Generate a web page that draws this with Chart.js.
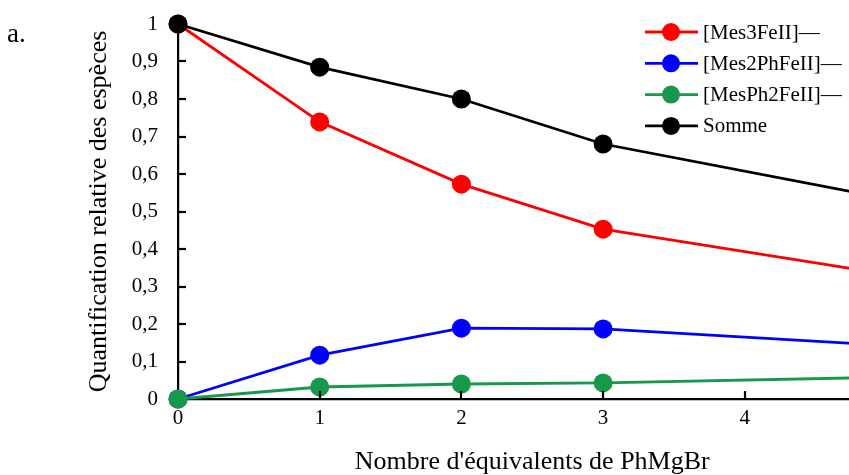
<!DOCTYPE html>
<html>
<head>
<meta charset="utf-8">
<script src="https://cdn.jsdelivr.net/npm/chart.js@4/dist/chart.umd.min.js"></script>
<style>
  html, body { margin: 0; padding: 0; background: #fff; overflow: hidden; }
  #wrap { position: relative; width: 849px; height: 475px; overflow: hidden; }
  #label { position: absolute; left: 7px; top: 18px; font: 27px "Liberation Serif", serif; color: #000; }
  canvas { position: absolute; left: 0; top: 0; }
</style>
</head>
<body>
<div id="wrap">
  <canvas id="chart" width="900" height="475"></canvas>
  <div id="label">a.</div>
</div>
<script>
// data
const equivalents = [0, 1, 2, 3, 5];
const mes3Fe = [1, 0.739, 0.573, 0.453, 0.333];
const mes2PhFe = [0, 0.117, 0.189, 0.187, 0.143];
const mesPh2Fe = [0, 0.032, 0.040, 0.043, 0.058];
const somme = [1, 0.885, 0.80, 0.68, 0.535];
const seriesNames = ['[Mes3FeII]\u2014', '[Mes2PhFeII]\u2014', '[MesPh2FeII]\u2014', 'Somme'];
const yTicks = [0, 0.1, 0.2, 0.3, 0.4, 0.5, 0.6, 0.7, 0.8, 0.9, 1];
const xTicks = [0, 1, 2, 3, 4];

const FONT = '"Liberation Serif", serif';

function pts(vals) {
    return vals.map((v, i) => ({ x: equivalents[i], y: v }));
}

function ds(label, vals, color, order) {
    return {
        label: label,
        data: pts(vals),
        borderColor: color,
        backgroundColor: color,
        borderWidth: 2.8,
        pointRadius: 9.5,
        pointHoverRadius: 9.5,
        pointBorderWidth: 0,
        clip: false,
        order: order
    };
}

// tick marks pointing inside the plot, like the original
const innerTicks = {
    id: 'innerTicks',
    afterDatasetsDraw(chart) {
        const ctx = chart.ctx;
        const x = chart.scales.x, y = chart.scales.y;
        const a = chart.chartArea;
        ctx.save();
        ctx.strokeStyle = '#000';
        ctx.lineWidth = 2.2;
        yTicks.forEach(v => {
            if (v === 0) return;
            const py = Math.round(y.getPixelForValue(v));
            ctx.beginPath();
            ctx.moveTo(a.left, py);
            ctx.lineTo(a.left + 8, py);
            ctx.stroke();
        });
        xTicks.forEach(v => {
            if (v === 0) return;
            const px = Math.round(x.getPixelForValue(v));
            ctx.beginPath();
            ctx.moveTo(px, a.bottom);
            ctx.lineTo(px, a.bottom - 8);
            ctx.stroke();
        });
        ctx.restore();
    }
};

// legend in the top right corner
const cornerLegend = {
    id: 'cornerLegend',
    afterDraw(chart) {
        const ctx = chart.ctx;
        ctx.save();
        ctx.font = '21px ' + FONT;
        ctx.textBaseline = 'middle';
        ctx.textAlign = 'left';
        chart.data.datasets.forEach((d, k) => {
            const cy = 32 + k * 31.3;
            ctx.strokeStyle = d.borderColor;
            ctx.lineWidth = 2.8;
            ctx.beginPath();
            ctx.moveTo(645, cy);
            ctx.lineTo(698, cy);
            ctx.stroke();
            ctx.fillStyle = d.borderColor;
            ctx.beginPath();
            ctx.arc(671, cy, 9, 0, Math.PI * 2);
            ctx.fill();
            ctx.fillStyle = '#000';
            ctx.fillText(d.label, 703, cy + 1);
        });
        ctx.restore();
    }
};

new Chart(document.getElementById('chart'), {
    type: 'line',
    data: {
        datasets: [
            ds(seriesNames[0], mes3Fe, '#ff0000', 3),
            ds(seriesNames[1], mes2PhFe, '#0000ff', 2),
            ds(seriesNames[2], mesPh2Fe, '#17984a', 1),
            ds(seriesNames[3], somme, '#000000', 0)
        ]
    },
    options: {
        responsive: false,
        animation: false,
        devicePixelRatio: 1,
        layout: { padding: { top: 24, right: 13.5, left: 0, bottom: 0 } },
        plugins: { legend: { display: false }, tooltip: { enabled: false } },
        scales: {
            x: {
                type: 'linear',
                min: 0,
                max: 5,
                afterBuildTicks: s => { s.ticks = xTicks.map(v => ({ value: v })); },
                afterFit: s => { s.height = 76; s.paddingLeft = 0; s.paddingRight = 0; },
                grid: { display: true, drawOnChartArea: false, drawTicks: false },
                border: { color: '#000', width: 2.2 },
                ticks: { color: '#000', font: { family: FONT, size: 21 }, padding: 7, maxRotation: 0 },
                title: {
                    display: true,
                    text: "Nombre d'équivalents de PhMgBr",
                    color: '#000',
                    font: { family: FONT, size: 26, lineHeight: 1 },
                    padding: { top: 0, bottom: 0 }
                }
            },
            y: {
                min: 0,
                max: 1,
                afterBuildTicks: s => { s.ticks = yTicks.map(v => ({ value: v })); },
                afterFit: s => { s.width = 178; s.paddingTop = 0; s.paddingBottom = 0; },
                grid: { display: true, drawOnChartArea: false, drawTicks: false },
                border: { color: '#000', width: 2.2 },
                ticks: {
                    color: '#000',
                    font: { family: FONT, size: 21 },
                    padding: 20,
                    callback: v => String(Number(v.toFixed(1))).replace('.', ',')
                },
                title: {
                    display: true,
                    text: 'Quantification relative des espèces',
                    color: '#000',
                    font: { family: FONT, size: 26, lineHeight: 1 },
                    padding: { top: 86, bottom: 0 }
                }
            }
        }
    },
    plugins: [innerTicks, cornerLegend]
});
</script>
</body>
</html>
